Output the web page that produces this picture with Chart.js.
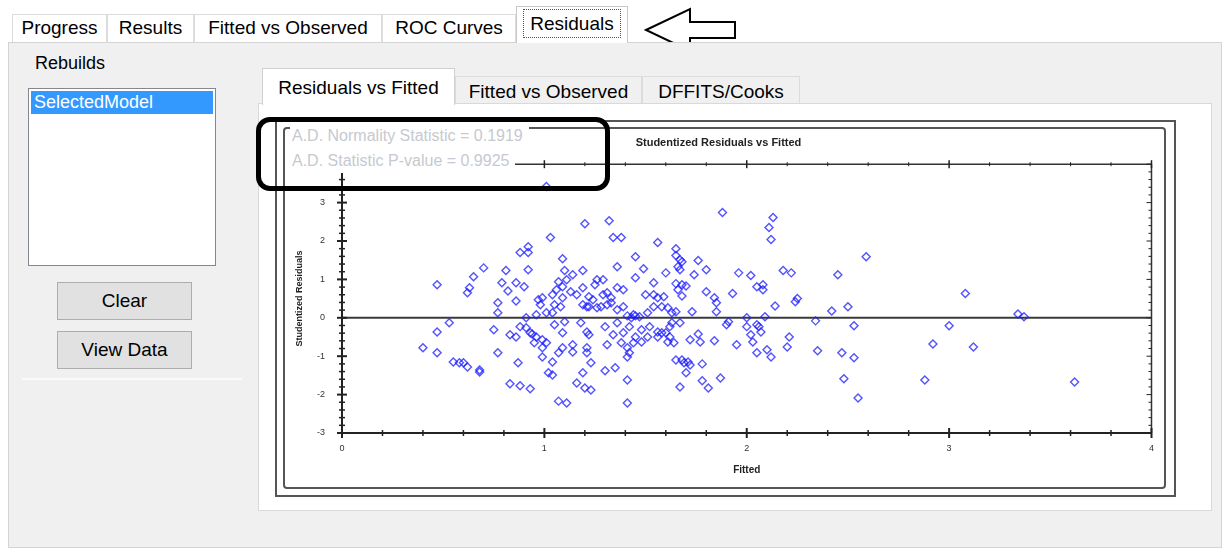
<!DOCTYPE html>
<html>
<head>
<meta charset="utf-8">
<title>Residuals</title>
<script src="https://cdn.jsdelivr.net/npm/chart.js@4.4.0/dist/chart.umd.min.js"></script>
<style>
    body {
        margin: 0;
        width: 1225px;
        height: 552px;
        overflow: hidden;
        position: relative;
        background: #fff;
        font-family: "Liberation Sans", Arial, sans-serif;
        color: #000;
    }
    .box { position: absolute; box-sizing: border-box; }
    .tab {
        position: absolute;
        box-sizing: border-box;
        border: 1px solid #dcdcdc;
        border-bottom: none;
        font-size: 19px;
        text-align: center;
        white-space: nowrap;
    }
    .btn {
        position: absolute;
        box-sizing: border-box;
        background: #e1e1e1;
        border: 1px solid #adadad;
        font-size: 19px;
        text-align: center;
        line-height: 36px;
    }
    .stat {
        display: inline-block;
        background: #fff;
        padding-right: 6px;
    }
</style>
</head>
<body>

<!-- top tab strip -->
<div class="tab" style="left:12px;top:14px;width:95px;height:28px;line-height:26px;background:#fff;">Progress</div>
<div class="tab" style="left:107px;top:14px;width:87px;height:28px;line-height:26px;background:#fff;">Results</div>
<div class="tab" style="left:194px;top:14px;width:188px;height:28px;line-height:26px;background:#fff;">Fitted vs Observed</div>
<div class="tab" style="left:382px;top:14px;width:134px;height:28px;line-height:26px;background:#fff;">ROC Curves</div>
<div class="tab" style="left:516px;top:6px;width:112px;height:37px;line-height:32px;background:#fff;border-color:#c8c8c8;z-index:2;">
    <span style="display:inline-block;border:1px dotted #555;padding:0 6px;line-height:27px;margin-top:2px;">Residuals</span>
</div>

<!-- arrow pointing at the Residuals tab -->
<svg class="box" style="left:640px;top:4px;" width="100" height="52">
    <polygon points="6,26 50,5 50,18 95,18 95,34 50,34 50,47" fill="#fff" stroke="#000" stroke-width="2"/>
</svg>

<!-- main panel -->
<div class="box" style="left:8px;top:42px;width:1214px;height:506px;background:#f0f0f0;border:1px solid #d4d4d4;"></div>

<!-- left side: rebuilds list -->
<div class="box" style="left:35px;top:53px;font-size:18px;">Rebuilds</div>
<div class="box" style="left:28px;top:88px;width:188px;height:178px;background:#fff;border:1px solid #828790;"></div>
<div class="box" style="left:31px;top:91px;width:182px;height:23px;background:#3399ff;color:#fff;font-size:18px;line-height:23px;padding-left:3px;">SelectedModel</div>
<div class="btn" style="left:57px;top:282px;width:135px;height:38px;">Clear</div>
<div class="btn" style="left:57px;top:331px;width:135px;height:38px;">View Data</div>
<div class="box" style="left:22px;top:378px;width:220px;height:2px;background:#fafafa;"></div>

<!-- inner tab strip -->
<div class="tab" style="left:455px;top:76px;width:187px;height:28px;line-height:30px;background:#f0f0f0;">Fitted vs Observed</div>
<div class="tab" style="left:642px;top:76px;width:158px;height:28px;line-height:30px;background:#f0f0f0;">DFFITS/Cooks</div>
<div class="box" style="left:258px;top:103px;width:954px;height:408px;background:#fff;border:1px solid #d9d9d9;"></div>
<div class="tab" style="left:262px;top:68px;width:193px;height:37px;line-height:38px;background:#fff;border-color:#d0d0d0;">Residuals vs Fitted</div>

<!-- chart frames -->
<div class="box" style="left:275px;top:120px;width:901px;height:377px;background:#fff;border:2px solid #555;"></div>
<div class="box" style="left:283px;top:127px;width:883px;height:362px;border:2px solid #555;border-radius:4px;"></div>
<canvas id="residChart" class="box" style="left:285px;top:129px;" width="879" height="358"></canvas>

<!-- normality test readout and highlight box -->
<div class="box" style="left:290px;top:123px;font-size:16px;color:#c6c9d0;line-height:25px;white-space:nowrap;">
    <span class="stat" style="padding-left:2px;">A.D. Normality Statistic = 0.1919</span><br>
    <span class="stat" style="padding-left:2px;">A.D. Statistic P-value = 0.9925</span>
</div>
<div class="box" style="left:256px;top:117px;width:354px;height:74px;border:5px solid #000;border-radius:14px;"></div>

<script>
// Fitted values (x) and studentized residuals (y), read point by point
const fittedValues = [
    1.01, 1.03, 0.92, 0.88, 0.92, 1.09, 0.70, 0.81, 0.92, 0.65,
    1.10, 0.47, 0.63, 0.62, 0.79, 0.82, 0.86, 0.90, 1.07, 1.09,
    1.11, 1.04, 1.06, 0.86, 0.77, 0.77, 0.97, 0.99, 0.98, 1.05,
    1.08, 1.09, 1.01, 1.04, 0.96, 0.91, 0.53, 0.47, 0.75, 0.83,
    0.86, 0.88, 0.91, 0.93, 0.94, 1.05, 1.09, 1.10, 0.96, 0.99,
    1.01, 0.95, 0.99, 0.40, 0.47, 0.77, 0.55, 0.58, 0.60, 0.62,
    0.68, 0.68, 0.99, 1.04, 1.07, 1.09, 0.87, 1.02, 1.04, 0.83,
    0.88, 0.93, 1.07, 1.11, 1.20, 1.32, 1.34, 1.38, 1.56, 1.45,
    1.65, 1.65, 1.67, 1.68, 1.66, 1.67, 1.76, 1.88, 1.19, 1.14,
    1.36, 1.49, 1.60, 1.80, 1.74, 1.96, 1.19, 1.25, 1.26, 1.29,
    1.45, 1.54, 1.65, 1.68, 1.70, 1.66, 1.68, 1.80, 1.84, 1.85,
    1.93, 1.13, 1.16, 1.22, 1.24, 1.29, 1.31, 1.33, 1.36, 1.39,
    1.50, 1.54, 1.56, 1.59, 1.19, 1.21, 1.22, 1.26, 1.28, 1.31,
    1.33, 1.36, 1.39, 1.44, 1.47, 1.51, 1.54, 1.58, 1.61, 1.63,
    1.65, 1.73, 1.85, 1.91, 1.90, 2.00, 1.18, 1.30, 1.36, 1.42,
    1.48, 1.52, 1.56, 1.58, 1.62, 1.63, 1.67, 1.21, 1.22, 1.34,
    1.39, 1.45, 1.44, 1.48, 1.51, 1.56, 1.60, 1.14, 1.14, 1.21,
    1.21, 1.31, 1.38, 1.41, 1.42, 1.41, 1.61, 1.62, 1.64, 1.76,
    1.72, 1.77, 1.84, 1.65, 1.68, 1.69, 1.71, 1.72, 1.78, 1.70,
    1.95, 1.23, 1.19, 1.30, 1.35, 1.16, 1.20, 1.23, 1.41, 1.41,
    1.67, 1.78, 1.81, 1.87, 1.41, 1.43, 1.45, 2.13, 2.11, 2.12,
    2.59, 2.02, 2.18, 2.22, 2.45, 2.05, 2.08, 2.08, 2.24, 2.25,
    2.14, 2.42, 2.50, 2.09, 2.05, 2.06, 2.07, 2.02, 2.03, 2.34,
    2.53, 2.21, 2.20, 2.05, 2.10, 2.12, 2.35, 2.47, 2.53, 2.48,
    2.55, 2.00, 3.08, 3.00, 2.92, 3.12, 2.88, 3.34, 3.37, 3.62,
];

const studentizedResiduals = [
    3.42, 2.09, 1.85, 1.70, 1.70, 1.54, 1.30, 1.23, 1.25, 1.07,
    1.23, 0.86, 0.78, 0.65, 0.91, 0.70, 0.91, 0.81, 0.94, 0.81,
    0.99, 0.60, 0.73, 0.44, 0.39, 0.13, 0.47, 0.52, 0.34, 0.34,
    0.29, 0.52, 0.13, 0.13, 0.08, 0.00, -0.13, -0.37, -0.31, -0.44,
    -0.50, -0.23, -0.26, -0.39, -0.42, -0.18, -0.39, -0.10, -0.50, -0.57,
    -0.65, -0.65, -0.78, -0.78, -0.91, -0.91, -1.15, -1.17, -1.17, -1.28,
    -1.36, -1.41, -1.02, -1.15, -0.91, -0.78, -1.17, -1.43, -1.49, -1.72,
    -1.77, -1.85, -2.17, -2.22, 2.45, 2.53, 2.09, 2.09, 1.96, 1.59,
    1.80, 1.62, 1.51, 1.46, 1.33, 1.25, 1.49, 2.74, 1.23, 1.12,
    1.33, 1.28, 1.17, 1.25, 1.12, 1.17, 0.78, 0.86, 0.99, 0.99,
    1.04, 0.91, 0.89, 0.86, 0.83, 0.73, 0.57, 0.68, 0.52, 0.39,
    0.63, 0.68, 0.60, 0.55, 0.47, 0.60, 0.65, 0.52, 0.78, 0.73,
    0.60, 0.60, 0.52, 0.55, 0.34, 0.29, 0.29, 0.26, 0.29, 0.34,
    0.39, 0.21, 0.29, 0.08, 0.03, 0.13, 0.29, 0.29, 0.26, 0.13,
    0.16, 0.16, 0.16, -0.10, -0.18, -0.23, -0.13, -0.23, -0.13, -0.23,
    -0.31, -0.23, -0.37, -0.39, -0.23, -0.13, -0.13, -0.37, -0.44, -0.44,
    -0.39, -0.50, -0.65, -0.63, -0.50, -0.50, -0.39, -0.70, -0.89, -0.78,
    -0.91, -0.70, -0.65, -0.78, -0.91, -1.02, -0.63, -0.50, -0.65, -0.42,
    -0.57, -0.63, -0.60, -1.10, -1.10, -1.17, -1.15, -1.23, -1.20, -1.43,
    -0.70, -1.17, -1.43, -1.38, -1.30, -1.70, -1.83, -1.88, -1.62, -2.22,
    -1.80, -1.64, -1.83, -1.57, 0.05, 0.00, 0.05, 2.61, 2.35, 2.04,
    1.59, 1.10, 1.23, 1.17, 1.12, 0.81, 0.86, 0.73, 0.42, 0.50,
    0.31, 0.18, 0.29, 0.03, -0.18, -0.23, -0.37, -0.44, -0.63, -0.08,
    -0.21, -0.50, -0.76, -0.91, -0.83, -1.02, -0.86, -0.91, -1.04, -1.59,
    -2.09, 0.00, 0.63, -0.21, -0.68, -0.76, -1.62, 0.10, 0.03, -1.67,
];

// Axis ranges and ticks
const xRange = [0, 4];
const yRange = [-3, 4];
const xMinorStep = 0.2;
const yMinorStep = 0.2;

const points = fittedValues.map((x, i) => ({ x: x, y: studentizedResiduals[i] }));

Chart.defaults.font.family = '"Liberation Sans", Arial, sans-serif';

// Boxed axes with crossing ticks and the zero line
const plotFrame = {
    id: "plotFrame",
    beforeDatasetsDraw(chart) {
        const { ctx, chartArea: a, scales } = chart;
        const y0 = scales.y.getPixelForValue(0);
        ctx.save();
        ctx.strokeStyle = "#3a3a3a";
        ctx.lineWidth = 2;
        ctx.beginPath();
        ctx.moveTo(a.left, y0);
        ctx.lineTo(a.right, y0);
        ctx.stroke();
        ctx.restore();
    },
    afterDatasetsDraw(chart) {
        const { ctx, chartArea: a, scales } = chart;
        const sx = scales.x;
        const sy = scales.y;
        ctx.save();

        const seg = (x1, y1, x2, y2, w) => {
            ctx.lineWidth = w;
            ctx.beginPath();
            ctx.moveTo(x1, y1);
            ctx.lineTo(x2, y2);
            ctx.stroke();
        };

        ctx.strokeStyle = "#222";
        seg(a.left, a.top, a.left, a.bottom, 2);
        seg(a.left, a.bottom, a.right, a.bottom, 2);
        ctx.strokeStyle = "#333";
        seg(a.left, a.top, a.right, a.top, 1.5);
        seg(a.right, a.top, a.right, a.bottom, 1.5);

        // x ticks, bottom and top
        const nx = Math.round((xRange[1] - xRange[0]) / xMinorStep);
        for (let i = 0; i <= nx; i++) {
            const v = xRange[0] + i * xMinorStep;
            const px = sx.getPixelForValue(v);
            const major = i % 5 === 0;
            const len = major ? 5 : 3;
            ctx.strokeStyle = "#222";
            seg(px, a.bottom - len, px, a.bottom + len, major ? 2 : 1.5);
            seg(px, a.top - len + 1, px, a.top + len - 1, major ? 1.5 : 1);
        }

        // y ticks, left and right
        const ny = Math.round((yRange[1] - yRange[0]) / yMinorStep);
        for (let i = 0; i <= ny; i++) {
            const v = yRange[0] + i * yMinorStep;
            const py = sy.getPixelForValue(v);
            const major = i % 5 === 0;
            const len = major ? 5 : 3;
            seg(a.left - len, py, a.left + len, py, major ? 2 : 1.5);
            seg(a.right - len, py, a.right, py, 1);
        }
        ctx.restore();
    },
};

const residCtx = document.getElementById("residChart").getContext("2d");
new Chart(residCtx, {
    type: "scatter",
    data: {
        datasets: [
            {
                label: "Studentized Residuals",
                data: points,
                pointStyle: "rectRot",
                pointRadius: 4,
                pointHoverRadius: 4,
                borderWidth: 1.4,
                borderColor: "rgba(25, 25, 255, 0.75)",
                backgroundColor: "rgba(255, 255, 255, 0)",
            },
        ],
    },
    options: {
        responsive: false,
        animation: false,
        devicePixelRatio: 1,
        layout: {
            padding: { left: 0, right: 12, top: 0, bottom: 0 },
        },
        plugins: {
            legend: { display: false },
            tooltip: { enabled: false },
            title: {
                display: true,
                text: "Studentized Residuals vs Fitted",
                color: "#222",
                font: { size: 11, weight: "bold" },
                padding: { top: 7, bottom: 15 },
            },
        },
        scales: {
            x: {
                type: "linear",
                min: xRange[0],
                max: xRange[1],
                grid: { display: false, drawTicks: false },
                border: { display: false },
                ticks: {
                    stepSize: 1,
                    padding: 10,
                    color: "#333",
                    font: { size: 9 },
                },
                title: {
                    display: true,
                    text: "Fitted",
                    color: "#222",
                    font: { size: 10, weight: "bold" },
                    padding: { top: 0, bottom: 11 },
                },
                afterFit: function (scale) {
                    scale.height = 54;
                },
            },
            y: {
                type: "linear",
                min: yRange[0],
                max: yRange[1],
                grid: { display: false, drawTicks: false },
                border: { display: false },
                ticks: {
                    stepSize: 1,
                    padding: 17,
                    color: "#333",
                    font: { size: 9 },
                    callback: function (value) {
                        return value === yRange[1] ? "" : value;
                    },
                },
                title: {
                    display: true,
                    text: "Studentized Residuals",
                    color: "#222",
                    font: { size: 9, weight: "bold" },
                    padding: { top: 9, bottom: 0 },
                },
                afterFit: function (scale) {
                    scale.width = 57;
                },
            },
        },
    },
    plugins: [plotFrame],
});
</script>
</body>
</html>
